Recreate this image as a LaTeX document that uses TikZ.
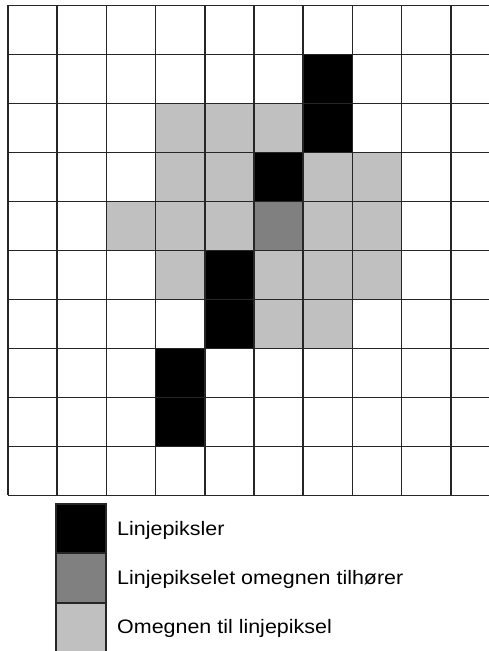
\documentclass[tikz,border=0pt]{standalone}
\usepackage{fontspec}
\setmainfont{Liberation Sans}
\definecolor{lgray}{RGB}{192,192,192}
\definecolor{dgray}{RGB}{128,128,128}
\tikzset{
  gridline/.style={draw=black!85, line width=1.6pt},
  legbox/.style={draw=black!85, line width=1.6pt, minimum width=50pt, minimum height=49pt, inner sep=0pt, anchor=north west},
  legtext/.style={anchor=base west, inner sep=0pt, font=\fontsize{19.5}{22}\selectfont, xscale=1.1}
}
\begin{document}
\begin{tikzpicture}[x=1pt,y=-1pt]
\useasboundingbox (0,0) rectangle (489,651);
\begin{scope}
\clip (0,0) rectangle (489,651);
% light gray cells (col,row)
\foreach \c/\r in {3/2,4/2,5/2, 3/3,4/3,6/3,7/3, 2/4,3/4,4/4,6/4,7/4, 3/5,5/5,6/5,7/5, 5/6,6/6}{
  \fill[lgray] ({8+49.2*\c},{5.3+49*\r}) rectangle ({8+49.2*(\c+1)},{5.3+49*(\r+1)});
}
% black cells
\foreach \c/\r in {6/1,6/2,5/3,4/5,4/6,3/7,3/8}{
  \fill[black] ({8+49.2*\c},{5.3+49*\r}) rectangle ({8+49.2*(\c+1)},{5.3+49*(\r+1)});
}
% dark gray cell
\fill[dgray] ({8+49.2*5},{5.3+49*4}) rectangle ({8+49.2*6},{5.3+49*5});
% grid lines
\foreach \i in {0,...,10}{
  \draw[gridline] ({8+49.2*\i},5.3) -- ({8+49.2*\i},495.3);
  \draw[gridline] (8,{5.3+49*\i}) -- (500,{5.3+49*\i});
}
% legend
\node[legbox, fill=black] (kb) at (55,503.3) {};
\node[legbox, fill=dgray] (kd) at (55,552.8) {};
\node[legbox, fill=lgray, minimum height=50pt] (kl) at (55,602.3) {};
\end{scope}
\node[legtext] (tb) at (117,535) {Linjepiksler};
\node[legtext] (td) at (117,584) {Linjepikselet omegnen tilhører};
\node[legtext] (tl) at (117,633) {Omegnen til linjepiksel};
\end{tikzpicture}
\end{document}
